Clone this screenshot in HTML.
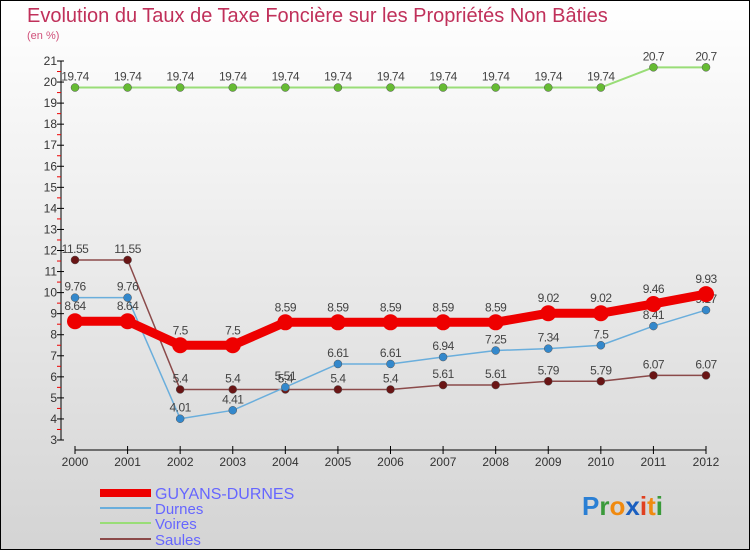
<!DOCTYPE html>
<html><head><meta charset="utf-8"><style>
body{margin:0;}
svg{display:block;font-family:"Liberation Sans",sans-serif;}
</style></head><body>
<svg id="chart" width="750" height="550" xmlns="http://www.w3.org/2000/svg">
<defs><linearGradient id="bg" x1="0" y1="0" x2="0" y2="1"><stop offset="0" stop-color="#ffffff"/><stop offset="1" stop-color="#d4d4d4"/></linearGradient></defs>
<rect x="0.5" y="0.5" width="749" height="549" fill="url(#bg)" stroke="#000"/>
<text x="27" y="22" font-size="20" fill="#c0305a">Evolution du Taux de Taxe Foncière sur les Propriétés Non Bâties</text>
<text x="27" y="39" font-size="11" fill="#d0507a">(en %)</text>
<g id="axes"></g>
<g id="series"></g>
<g id="legend"></g>
<g font-size="26" font-weight="bold">
<text x="582" y="515"><tspan fill="#2a7fd4">P</tspan><tspan fill="#3a9a3a">r</tspan><tspan fill="#f08a10">o</tspan><tspan fill="#1a5fc0">x</tspan><tspan fill="#e04020">i</tspan><tspan fill="#f08a10">t</tspan><tspan fill="#3a9a3a">i</tspan></text>
</g>
</svg>
<script>
const years=[2000,2001,2002,2003,2004,2005,2006,2007,2008,2009,2010,2011,2012];
const guyans=[8.64,8.64,7.5,7.5,8.59,8.59,8.59,8.59,8.59,9.02,9.02,9.46,9.93];
const durnes=[9.76,9.76,4.01,4.41,5.51,6.61,6.61,6.94,7.25,7.34,7.5,8.41,9.17];
const voires=[19.74,19.74,19.74,19.74,19.74,19.74,19.74,19.74,19.74,19.74,19.74,20.7,20.7];
const saules=[11.55,11.55,5.4,5.4,5.4,5.4,5.4,5.61,5.61,5.79,5.79,6.07,6.07];
const yTicks=[3,4,5,6,7,8,9,10,11,12,13,14,15,16,17,18,19,20,21];
const seriesNames=["GUYANS-DURNES","Durnes","Voires","Saules"];

const NS="http://www.w3.org/2000/svg";
function xS(i){return 75+i*(706-75)/(years.length-1);}
function yS(v){return 61+(21-v)*(440-61)/18;}
function el(t,a,p){const e=document.createElementNS(NS,t);for(const k in a)e.setAttribute(k,a[k]);p.appendChild(e);return e;}
const axes=document.getElementById('axes'),ser=document.getElementById('series'),leg=document.getElementById('legend');
function fmt(v){return String(v).replace(/^(\d+)\.(\d+)$/,'$1.$2');}

const ya=el('line',{x1:61,y1:yS(21),x2:61,y2:yS(3),stroke:'#000'},axes);


yTicks.forEach(t=>{
  el('line',{x1:57,y1:yS(t),x2:64,y2:yS(t),stroke:'#000'},axes);
  if(t<21){el('line',{x1:57,y1:yS(t+0.5),x2:61,y2:yS(t+0.5),stroke:'#e00'},axes);}
  const tx=el('text',{x:57,y:yS(t)+4,'text-anchor':'end','font-size':12,fill:'#333'},axes);
  tx.textContent=t;
  
  
});
const xa=el('line',{x1:75,y1:450,x2:706,y2:450,stroke:'#000'},axes);


years.forEach((y,i)=>{
  el('line',{x1:xS(i),y1:446,x2:xS(i),y2:454,stroke:'#000'},axes);
  const tx=el('text',{x:xS(i),y:466,'text-anchor':'middle','font-size':12,fill:'#333'},axes);
  tx.textContent=y;
  
  
});

const defs=[
 {d:voires,c:'#99dd77',p:'#66bb33',w:2,r:4,n:'voires'},
 {d:saules,c:'#8b4a4a',p:'#6a1515',w:1.5,r:4,n:'saules'},
 {d:durnes,c:'#6aaedc',p:'#3388cc',w:1.5,r:4,n:'durnes'},
 {d:guyans,c:'#ee0000',p:'#ee0000',w:9,r:8,n:'guyans-durnes'}
];
defs.forEach(s=>{
  const g=el('g',{},ser);
  
  
  const pts=s.d.map((v,i)=>xS(i)+','+yS(v)).join(' ');
  el('polyline',{points:pts,fill:'none',stroke:s.c,'stroke-width':s.w,'stroke-linejoin':'round'},g);
  s.d.forEach((v,i)=>{
    const c=el('circle',{cx:xS(i),cy:yS(v),r:s.r,fill:s.p,stroke:s.w>5?'none':'#555','stroke-width':0.5},g);
    
    
    const t=el('text',{x:xS(i),y:yS(v)-(s.w>5?11:7),'text-anchor':'middle','font-size':12,fill:'#444','letter-spacing':'-0.5'},g);
    t.textContent=fmt(v);
    
    
  });
});

const lc=['#ee0000','#6aaedc','#99dd77','#8b4a4a'],lw=[8,2,2,2],ly=[493,508,523,539];
seriesNames.forEach((n,i)=>{
  const g=el('g',{},leg);
  
  
  el('line',{x1:100,y1:ly[i],x2:151,y2:ly[i],stroke:lc[i],'stroke-width':lw[i]},g);
  const t=el('text',{x:155,y:ly[i]+6,'font-size':i==0?16:15,fill:'#6666ff'},g);
  t.textContent=n;
});
</script>
</body></html>
